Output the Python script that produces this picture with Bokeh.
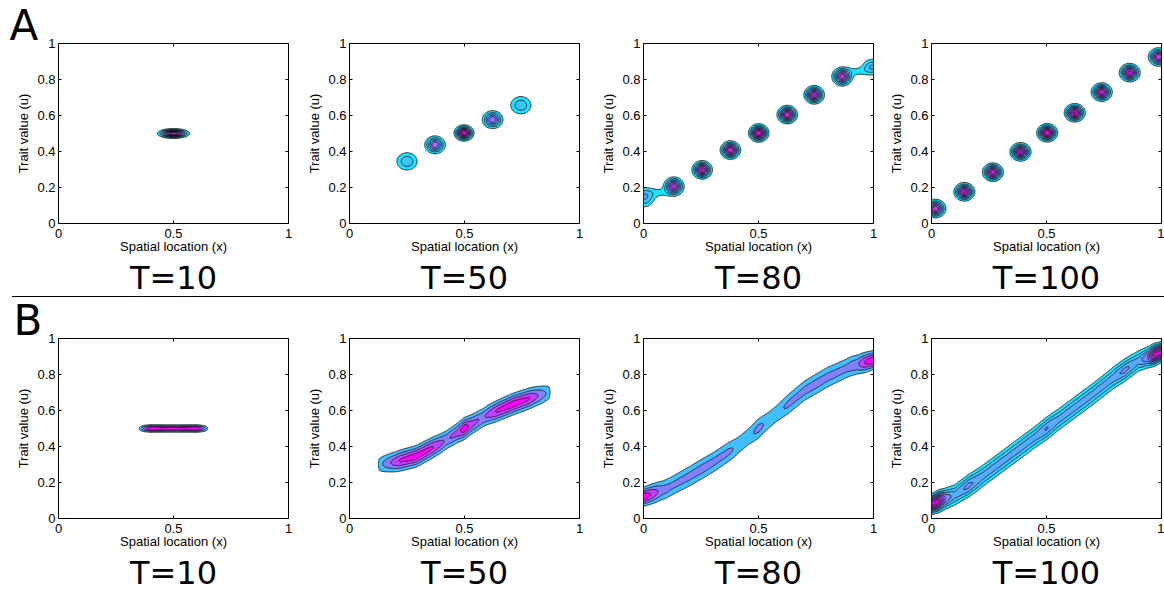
import numpy as np
from bokeh.plotting import figure
from bokeh.models import Range1d, FixedTicker, LinearAxis, Div, Title
from bokeh.layouts import column, row
from bokeh.embed import file_html
from bokeh.resources import INLINE

# ---------------- texts and ticks ----------------
row_letters = ["A", "B"]
times = ["T=10", "T=50", "T=80", "T=100"]
x_label = "Spatial location (x)"
y_label = "Trait value (u)"
x_ticks = [0, 0.5, 1]
x_tick_labels = ["0", "0.5", "1"]
y_ticks = [0, 0.2, 0.4, 0.6, 0.8, 1]
y_tick_labels = ["0", "0.2", "0.4", "0.6", "0.8", "1"]

# ---------------- row A : separate clusters ----------------
# centre x, centre u, relative peak height, outer-contour half-widths in x and u
a10_x = [0.5]
a10_u = [0.5]
a10_h = [1.0]
a10_rx = [0.07]
a10_ru = [0.028]

a50_x = [0.25, 0.372, 0.498, 0.622, 0.745]
a50_u = [0.345, 0.437, 0.503, 0.577, 0.657]
a50_h = [0.28, 0.6, 1.0, 0.6, 0.28]
a50_rx = [0.044, 0.045, 0.044, 0.045, 0.044]
a50_ru = [0.048, 0.05, 0.046, 0.05, 0.048]

a80_x = [0.005, 0.066, 0.132, 0.255, 0.378, 0.501, 0.625, 0.742, 0.864, 0.93, 0.995]
a80_u = [0.143, 0.172, 0.207, 0.298, 0.408, 0.503, 0.605, 0.715, 0.815, 0.845, 0.872]
a80_h = [0.3, 0.12, 0.75, 0.85, 0.9, 1.0, 0.9, 0.85, 0.75, 0.12, 0.3]
a80_rx = [0.04, 0.03, 0.045, 0.045, 0.045, 0.045, 0.045, 0.045, 0.045, 0.03, 0.04]
a80_ru = [0.05, 0.012, 0.052, 0.052, 0.052, 0.052, 0.052, 0.052, 0.052, 0.012, 0.04]

a100_x = [0.017, 0.143, 0.267, 0.387, 0.503, 0.623, 0.74, 0.862, 0.988]
a100_u = [0.083, 0.176, 0.285, 0.398, 0.504, 0.615, 0.73, 0.838, 0.925]
a100_h = [0.8, 0.85, 0.88, 0.92, 1.0, 0.92, 0.88, 0.85, 0.8]
a100_rx = [0.046] * 9
a100_ru = [0.052] * 9

# ---------------- row B : continuous ridges ----------------
# centre-line nodes (x, u, vertical spread) and amplitude nodes (x, height)
b10_cx = [0.3, 0.7]
b10_cu = [0.5, 0.5]
b10_cw = [0.012, 0.012]
b10_ax = [0.34, 0.37, 0.40, 0.45, 0.5, 0.55, 0.60, 0.63, 0.66]
b10_ah = [0.0, 0.55, 1.0, 0.88, 0.9, 0.88, 1.0, 0.55, 0.0]

b50_cx = [0.13, 0.2, 0.29, 0.4, 0.5, 0.6, 0.71, 0.8, 0.87]
b50_cu = [0.30, 0.315, 0.345, 0.42, 0.5, 0.575, 0.635, 0.675, 0.70]
b50_cw = [0.035] * 9
b50_ax = [0.118, 0.13, 0.17, 0.22, 0.29, 0.36, 0.42, 0.47, 0.50, 0.53, 0.58, 0.64, 0.71, 0.78, 0.83, 0.867, 0.88]
b50_ah = [0.0, 0.32, 0.55, 0.82, 0.9, 0.82, 0.56, 0.68, 0.95, 0.68, 0.56, 0.82, 0.9, 0.82, 0.55, 0.32, 0.0]

b80_cx = [0.0, 0.1, 0.2, 0.3, 0.4, 0.5, 0.6, 0.7, 0.8, 0.9, 1.0]
b80_cu = [0.12, 0.165, 0.235, 0.31, 0.395, 0.5, 0.605, 0.71, 0.785, 0.845, 0.88]
b80_cw = [0.03, 0.04, 0.042, 0.042, 0.042, 0.042, 0.042, 0.042, 0.042, 0.04, 0.03]
b80_ax = [0.0, 0.04, 0.08, 0.12, 0.25, 0.37, 0.42, 0.46, 0.5, 0.54, 0.58, 0.63, 0.75, 0.88, 0.93, 0.96, 1.0]
b80_ah = [1.0, 0.75, 0.5, 0.44, 0.47, 0.44, 0.34, 0.35, 0.46, 0.35, 0.34, 0.44, 0.47, 0.45, 0.55, 0.8, 1.0]

b100_cx = [0.0, 0.1, 0.2, 0.3, 0.4, 0.5, 0.6, 0.7, 0.8, 0.9, 1.0]
b100_cu = [0.08, 0.13, 0.215, 0.31, 0.405, 0.5, 0.595, 0.69, 0.79, 0.875, 0.925]
b100_cw = [0.028, 0.036, 0.038, 0.038, 0.038, 0.038, 0.038, 0.038, 0.038, 0.036, 0.028]
b100_ax = [0.0, 0.03, 0.06, 0.1, 0.16, 0.22, 0.45, 0.5, 0.55, 0.78, 0.84, 0.9, 0.94, 0.97, 1.0]
b100_ah = [0.92, 0.95, 0.5, 0.34, 0.43, 0.34, 0.34, 0.41, 0.34, 0.34, 0.43, 0.34, 0.5, 0.95, 0.92]

# contour levels (relative heights)
levels_fine = [0.1, 0.2, 0.3, 0.4, 0.5, 0.6, 0.7, 0.8, 0.9]
levels_coarse = [0.2, 0.4, 0.6, 0.8]

# ---------------- field construction ----------------
gx = np.linspace(0.0, 1.0, 241)
gu = np.linspace(0.0, 1.0, 601)
X, U = np.meshgrid(gx, gu)


def blob_field(xs, us, hs, rxs, rus, base):
    z = np.zeros_like(X)
    for x0, u0, h, rx, ru in zip(xs, us, hs, rxs, rus):
        k = np.sqrt(2.0 * np.log(h / base))
        sx, su = rx / k, ru / k
        z += h * np.exp(-((X - x0) ** 2 / (2 * sx ** 2) + (U - u0) ** 2 / (2 * su ** 2)))
    return z


def ridge_field(cx, cu, cw, ax, ah):
    c = np.interp(X, cx, cu)
    w = np.interp(X, cx, cw)
    a = np.interp(X, ax, ah)
    return a * np.exp(-((U - c) ** 2) / (2 * w ** 2))


def cool(t):
    return "#%02x%02x%02x" % (int(round(255 * t)), int(round(255 * (1 - t))), 255)


panels_a = [
    blob_field(a10_x, a10_u, a10_h, a10_rx, a10_ru, 0.1),
    blob_field(a50_x, a50_u, a50_h, a50_rx, a50_ru, 0.1),
    blob_field(a80_x, a80_u, a80_h, a80_rx, a80_ru, 0.1),
    blob_field(a100_x, a100_u, a100_h, a100_rx, a100_ru, 0.1),
]
panels_b = [
    ridge_field(b10_cx, b10_cu, b10_cw, b10_ax, b10_ah),
    ridge_field(b50_cx, b50_cu, b50_cw, b50_ax, b50_ah),
    ridge_field(b80_cx, b80_cu, b80_cw, b80_ax, b80_ah),
    ridge_field(b100_cx, b100_cu, b100_cw, b100_ax, b100_ah),
]
levels_a = [levels_fine] * 4
levels_b = [levels_coarse, levels_coarse, levels_coarse, levels_fine]

FRAME_W, FRAME_H = 230, 180
left_borders = [58, 50, 50, 50]
right_borders = [11, 14, 8, 3]
LABEL_FONT = "Liberation Sans"
TITLE_FONT = "DejaVu Sans"


def make_panel(z, lev, top_border, bottom_border, left_border, right_border, time_text,
               letter=None, letter_offset=-49):
    p = figure(frame_width=FRAME_W, frame_height=FRAME_H,
               x_range=Range1d(0, 1), y_range=Range1d(0, 1),
               output_backend="svg", toolbar_location=None,
               min_border=0, min_border_left=left_border, min_border_right=right_border,
               min_border_top=top_border, min_border_bottom=bottom_border,
               background_fill_color="white", border_fill_color="white")
    p.grid.visible = False
    p.outline_line_color = "black"
    p.outline_line_width = 1

    levels = list(lev) + [max(float(z.max()) * 1.01, lev[-1] + 0.01)]
    n = len(lev)
    fills = [cool((i + 1) / n) for i in range(n)]
    p.contour(gx, gu, z, levels, fill_color=fills, line_color="black", line_width=0.75)

    xa = p.xaxis[0]
    xa.ticker = FixedTicker(ticks=x_ticks)
    xa.major_label_overrides = {t: s for t, s in zip(x_ticks, x_tick_labels)}
    xa.axis_label = x_label
    ya = p.yaxis[0]
    ya.ticker = FixedTicker(ticks=y_ticks)
    ya.major_label_overrides = {t: s for t, s in zip(y_ticks, y_tick_labels)}
    ya.axis_label = y_label
    for ax in (xa, ya):
        ax.axis_line_color = None
        ax.major_tick_in = 3
        ax.major_tick_out = 0
        ax.major_tick_line_color = "black"
        ax.minor_tick_line_color = None
        ax.major_label_text_font = LABEL_FONT
        ax.major_label_text_font_size = "13px"
        ax.major_label_text_color = "black"
        ax.axis_label_text_font = LABEL_FONT
        ax.axis_label_text_font_size = "13px"
        ax.axis_label_text_font_style = "normal"
        ax.axis_label_text_color = "black"
    xa.major_label_standoff = 5
    xa.axis_label_standoff = -2
    ya.major_label_standoff = 3
    ya.axis_label_standoff = 3

    # tick marks on the opposite sides (labels not drawn)
    for loc, tk in (("above", x_ticks), ("right", y_ticks)):
        ax2 = LinearAxis(ticker=FixedTicker(ticks=tk), axis_line_color=None,
                         major_tick_in=3, major_tick_out=0, minor_tick_line_color=None,
                         major_label_text_font_size="1px", major_label_text_color=None,
                         major_label_text_alpha=0, major_label_standoff=0)
        p.add_layout(ax2, loc)

    p.add_layout(Title(text=time_text, align="center", text_font=TITLE_FONT,
                       text_font_size="32px", text_font_style="normal",
                       text_color="black", standoff=0), "below")
    if letter is not None:
        p.add_layout(Title(text=letter, align="left", offset=letter_offset,
                           text_font=TITLE_FONT, text_font_size="42px",
                           text_font_style="normal", text_color="black",
                           standoff=-12), "above")
    return p


figs_a = []
figs_b = []
for i in range(4):
    figs_a.append(make_panel(panels_a[i], levels_a[i], 43, 70, left_borders[i], right_borders[i],
                             times[i], row_letters[0] if i == 0 else None, -49))
    figs_b.append(make_panel(panels_b[i], levels_b[i], 41, 72, left_borders[i], right_borders[i],
                             times[i], row_letters[1] if i == 0 else None, -45))

divider = Div(text="", width=1152, height=1, margin=(0, 0, 0, 12),
              styles={"background-color": "black"})

layout = column(row(*figs_a), divider, row(*figs_b))

open("out.html", "w").write(file_html(layout, INLINE))
